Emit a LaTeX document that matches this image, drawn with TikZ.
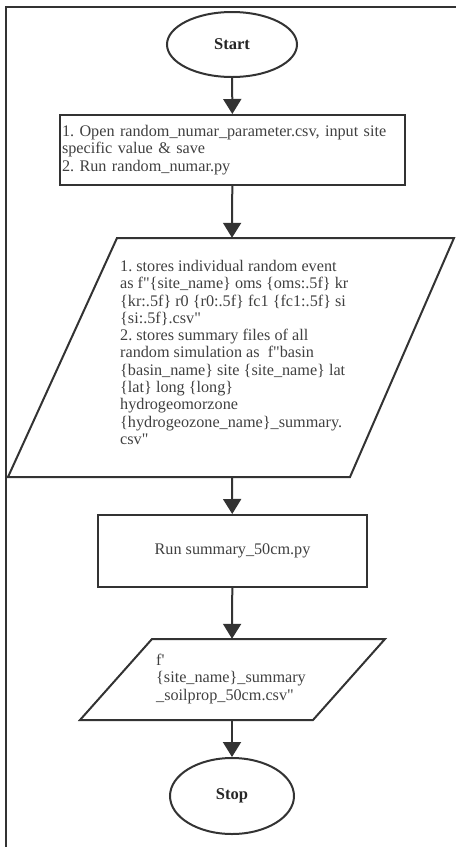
\documentclass[tikz,border=0pt]{standalone}
\usepackage{fontspec}
\setmainfont{Liberation Serif}
\frenchspacing
\usetikzlibrary{arrows.meta,shapes.geometric}
\newcommand{\dq}{\textquotedbl}
\begin{document}
\begin{tikzpicture}[x=1pt,y=-1pt,
  line/.style={draw=black!80, line width=2pt},
  term/.style={ellipse, line, inner sep=0pt, text=black!85, font=\fontsize{16.5}{17}\selectfont\bfseries},
  proc/.style={rectangle, line, inner sep=0pt},
  flow/.style={line, -{Triangle[width=18pt,length=15pt]}},
  txt/.style={text=black!75, font=\fontsize{16.2}{17.3}\selectfont, align=left, inner sep=0pt}
]
\useasboundingbox (0,0) rectangle (456,847);
\draw[line] (6,847) -- (6,7) -- (456,7);

\node[term, minimum width=130pt, minimum height=65pt] (start) at (232,44.5) {Start};

\node[proc, txt, minimum width=345pt, minimum height=70pt, text width=341pt] (b1) at (232.5,150)
  {1. Open random\_numar\_parameter.csv, input site\\specific value \& save\\2. Run random\_numar.py};

\node[minimum width=10pt, minimum height=239pt, inner sep=0pt] (p1) at (232,357.5) {};
\draw[line] (117,238) -- (454,238) -- (350,477) -- (8,477) -- cycle;
\node[txt, anchor=north west] (p1t) at (120,260) {1. stores individual random event\\
as f\dq\{site\_name\} oms \{oms:.5f\} kr\\
\{kr:.5f\} r0 \{r0:.5f\} fc1 \{fc1:.5f\} si\\
\{si:.5f\}.csv\dq\\
2. stores summary files of all\\
random simulation as\ \ f\dq basin\\
\{basin\_name\} site \{site\_name\} lat\\
\{lat\} long \{long\}\\
hydrogeomorzone\\
\{hydrogeozone\_name\}\_summary.\\
csv\dq};

\node[proc, txt, align=center, minimum width=269pt, minimum height=72pt] (b2) at (232.5,551) {Run summary\_50cm.py};

\node[minimum width=10pt, minimum height=81pt, inner sep=0pt] (p2) at (232,679.5) {};
\draw[line] (152,639) -- (385,639) -- (313,720) -- (80,720) -- cycle;
\node[txt, anchor=north west] (p2t) at (156,654) {f\textquotesingle\\\{site\_name\}\_summary\\\_soilprop\_50cm.csv\dq};

\node[term, minimum width=124pt, minimum height=76pt] (stop) at (232,796) {Stop};

\draw[flow] (start) -- (b1);
\draw[flow] (b1) -- (p1.north);
\draw[flow] (p1.south) -- (b2);
\draw[flow] (b2) -- (p2.north);
\draw[flow] (p2.south) -- (stop);
\end{tikzpicture}
\end{document}
